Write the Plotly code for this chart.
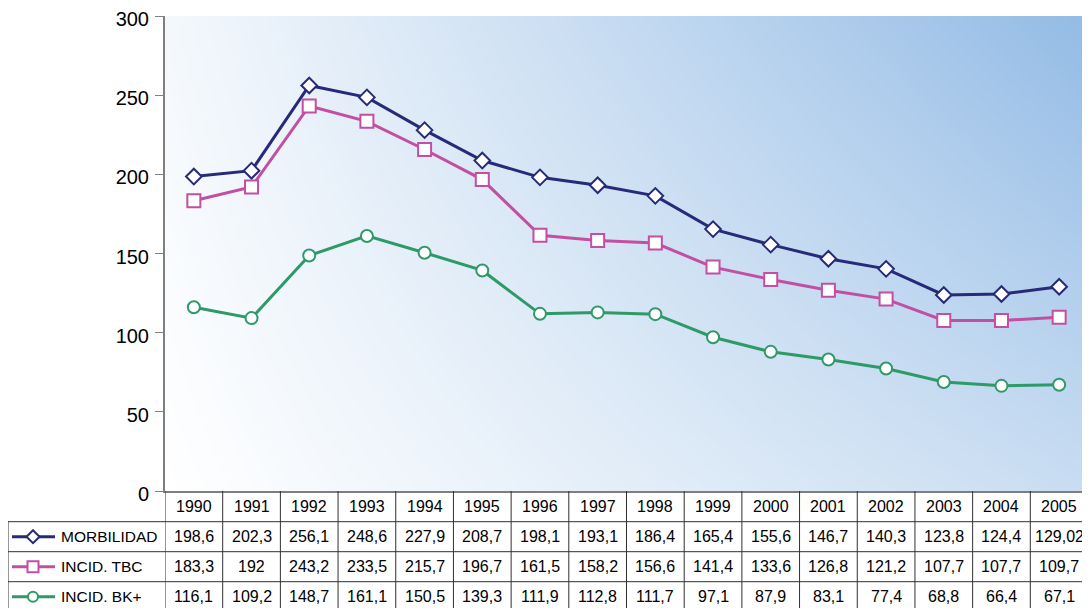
import plotly.graph_objects as go

# ---------------- data ----------------
years = list(range(1990, 2006))
series_names = ["MORBILIDAD", "INCID. TBC", "INCID. BK+"]
morbilidad = [198.6, 202.3, 256.1, 248.6, 227.9, 208.7, 198.1, 193.1, 186.4, 165.4,
              155.6, 146.7, 140.3, 123.8, 124.4, 129.02]
incid_tbc = [183.3, 192, 243.2, 233.5, 215.7, 196.7, 161.5, 158.2, 156.6, 141.4,
             133.6, 126.8, 121.2, 107.7, 107.7, 109.7]
incid_bk = [116.1, 109.2, 148.7, 161.1, 150.5, 139.3, 111.9, 112.8, 111.7, 97.1,
            87.9, 83.1, 77.4, 68.8, 66.4, 67.1]
y_ticks = [0, 50, 100, 150, 200, 250, 300]

# ---------------- styles ----------------
OFF = 8                      # page body margin
W, H = 1090 - OFF, 608 - OFF  # figure size
FONT = "Liberation Sans, Arial, sans-serif"
colors = ["#262A78", "#C24FA2", "#2E9A68"]
symbols = ["diamond", "square", "circle"]
msizes = [12, 13, 12]
all_series = [morbilidad, incid_tbc, incid_bk]

# page-pixel geometry of plot area
PX_L, PX_R, PX_T, PX_B = 165, 1088, 16, 491
ROW_LINES = [521.7, 551.7, 581.7]
TABLE_LEFT = 8


def py(p):
    return (H - (p - OFF)) / H


def px(p):
    return (p - OFF) / W


fig = go.Figure()

# gradient background (bilinear heatmap)
fig.add_trace(go.Heatmap(
    x=[years[0] - 0.5, years[-1] + 0.5], y=[0, 300],
    z=[[0.0, 0.51], [0.10, 1.0]],
    zmin=0, zmax=1, zsmooth="best",
    colorscale=[[0, "#FFFFFF"], [1, "#93BBE5"]],
    showscale=False, hoverinfo="skip",
))

for name, vals, c, s, ms in zip(series_names, all_series, colors, symbols, msizes):
    fig.add_trace(go.Scatter(
        x=years, y=vals, name=name, mode="lines+markers",
        line=dict(color=c, width=3),
        marker=dict(symbol=s, size=ms, color="white", line=dict(color=c, width=2)),
        showlegend=False, cliponaxis=False,
    ))

# legend keys in table rows (own axes)
for i, (c, s, ms) in enumerate(zip(colors, symbols, msizes)):
    fig.add_trace(go.Scatter(
        x=[12, 55], y=[i + 0.5, i + 0.5], mode="lines",
        line=dict(color=c, width=3), xaxis="x2", yaxis="y2",
        showlegend=False, hoverinfo="skip",
    ))
    fig.add_trace(go.Scatter(
        x=[33], y=[i + 0.5], mode="markers",
        marker=dict(symbol=s, size=ms - 2, color="white", line=dict(color=c, width=2)),
        xaxis="x2", yaxis="y2", showlegend=False, hoverinfo="skip",
    ))

shapes = []
# vertical column lines
for k in range(len(years) + 1):
    shapes.append(dict(type="line", xref="x", yref="paper",
                       x0=years[0] - 0.5 + k, x1=years[0] - 0.5 + k,
                       y0=py(PX_B), y1=0,
                       line=dict(color="#303030", width=1)))
# left border of label column
shapes.append(dict(type="line", xref="paper", yref="paper",
                   x0=px(TABLE_LEFT), x1=px(TABLE_LEFT),
                   y0=py(ROW_LINES[0]), y1=0, line=dict(color="#303030", width=1)))
# horizontal row lines
for r in ROW_LINES:
    shapes.append(dict(type="line", xref="paper", yref="paper",
                       x0=px(TABLE_LEFT), x1=px(PX_R), y0=py(r), y1=py(r),
                       line=dict(color="#303030", width=1)))

annotations = []
hdr_y = py(506)
row_y = [py(536.7), py(566.7), py(596.5)]
for yr in years:
    annotations.append(dict(x=yr, xref="x", y=hdr_y, yref="paper", text=str(yr),
                            showarrow=False, font=dict(family=FONT, size=16, color="black"),
                            xanchor="center", yanchor="middle"))


def fmt(v):
    return f"{v:g}".replace(".", ",")


for ry, vals, name in zip(row_y, all_series, series_names):
    annotations.append(dict(x=px(59), xref="paper", y=ry, yref="paper", text=name,
                            showarrow=False, font=dict(family=FONT, size=15.5, color="black"),
                            xanchor="left", yanchor="middle"))
    for yr, v in zip(years, vals):
        annotations.append(dict(x=yr, xref="x", y=ry, yref="paper", text=fmt(v),
                                showarrow=False, font=dict(family=FONT, size=16, color="black"),
                                xanchor="center", yanchor="middle"))

fig.update_layout(
    width=W, height=H,
    margin=dict(l=0, r=0, t=0, b=0, autoexpand=False),
    paper_bgcolor="white", plot_bgcolor="white",
    font=dict(family=FONT, color="black"),
    xaxis=dict(domain=[px(PX_L), px(PX_R)], range=[years[0] - 0.5, years[-1] + 0.5],
               showticklabels=False, ticks="", showgrid=False, zeroline=False,
               showline=True, linecolor="#7F7F7F", linewidth=2, fixedrange=True),
    yaxis=dict(domain=[py(PX_B), py(PX_T)], range=[0, 300], tickvals=y_ticks,
               ticks="outside", ticklen=8, tickcolor="#7F7F7F", tickwidth=1,
               showline=True, linecolor="#7F7F7F", linewidth=2,
               showgrid=False, zeroline=False, ticklabeloverflow="allow",
               ticklabelshift=3, ticklabelstandoff=2,
               tickfont=dict(family=FONT, size=20, color="black"), fixedrange=True),
    xaxis2=dict(domain=[px(TABLE_LEFT), px(PX_L)], range=[TABLE_LEFT, PX_L],
                anchor="y2", visible=False, fixedrange=True),
    yaxis2=dict(domain=[0, py(ROW_LINES[0])], range=[(608 - ROW_LINES[0]) / 30.0, 0],
                anchor="x2", visible=False, fixedrange=True),
    shapes=shapes, annotations=annotations,
    showlegend=False,
)

fig.write_html("out.html")
